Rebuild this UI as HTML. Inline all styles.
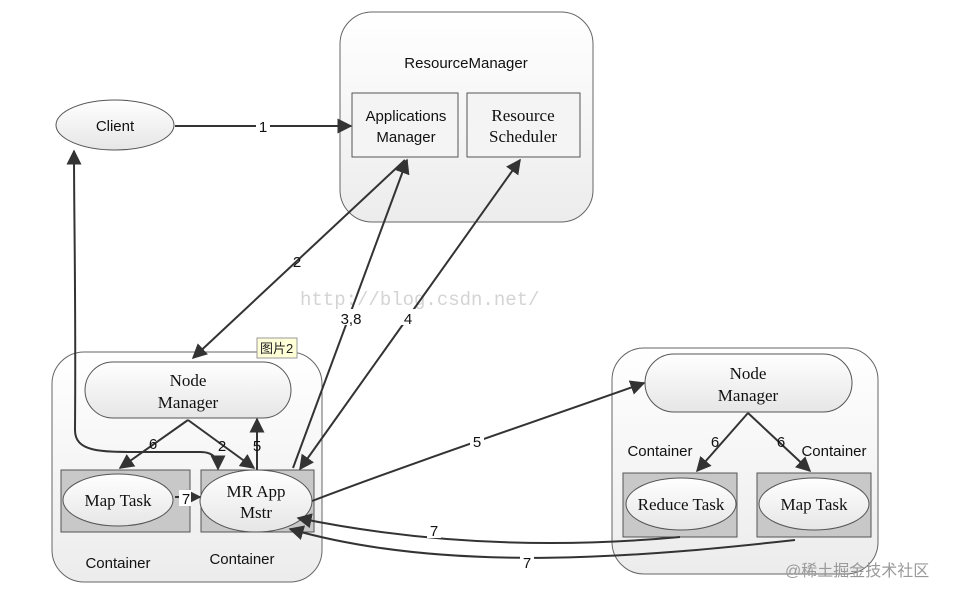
<!DOCTYPE html>
<html><head><meta charset="utf-8"><style>
html,body{margin:0;padding:0;background:#fff;}
svg{display:block;}
.s{font-family:"Liberation Sans","DejaVu Sans",sans-serif;font-size:15px;fill:#111;}
.r{font-family:"Liberation Serif",serif;font-size:17px;fill:#111;}
</style></head><body>
<svg width="967" height="598" viewBox="0 0 967 598" xmlns="http://www.w3.org/2000/svg">
<defs>
<marker id="a" viewBox="0 0 10 10" refX="9" refY="5" markerWidth="15" markerHeight="15" markerUnits="userSpaceOnUse" orient="auto"><path d="M0,0 L10,5 L0,10 z" fill="#333"/></marker>
<marker id="b" viewBox="0 0 10 10" refX="1" refY="5" markerWidth="15" markerHeight="15" markerUnits="userSpaceOnUse" orient="auto"><path d="M10,0 L0,5 L10,10 z" fill="#333"/></marker>
<linearGradient id="g" x1="0" y1="0" x2="0" y2="1"><stop offset="0" stop-color="#fff"/><stop offset="1" stop-color="#ececec"/></linearGradient>
<linearGradient id="e" x1="0" y1="0" x2="0" y2="1"><stop offset="0" stop-color="#fff"/><stop offset="1" stop-color="#e6e6e6"/></linearGradient>
</defs>
<rect x="340" y="12" width="253" height="210" rx="32" fill="url(#g)" stroke="#666"/>
<rect x="52" y="352" width="270" height="230" rx="32" fill="url(#g)" stroke="#666"/>
<rect x="612" y="348" width="266" height="226" rx="32" fill="url(#g)" stroke="#666"/>
<text x="466" y="68" class="s" text-anchor="middle">ResourceManager</text>
<rect x="352" y="93" width="106" height="64" fill="#f4f4f4" stroke="#555"/>
<rect x="467" y="93" width="113" height="64" fill="#f4f4f4" stroke="#555"/>
<text x="406" y="121" class="s" text-anchor="middle">Applications</text>
<text x="406" y="142" class="s" text-anchor="middle">Manager</text>
<text x="523" y="121" class="r" text-anchor="middle">Resource</text>
<text x="523" y="142" class="r" text-anchor="middle">Scheduler</text>
<ellipse cx="115" cy="125" rx="59" ry="25" fill="url(#e)" stroke="#555"/>
<text x="115" y="131" class="s" text-anchor="middle">Client</text>
<rect x="85" y="362" width="206" height="56" rx="28" fill="url(#e)" stroke="#555"/>
<text x="188" y="386" class="r" text-anchor="middle">Node</text>
<text x="188" y="408" class="r" text-anchor="middle">Manager</text>
<rect x="61" y="470" width="129" height="62" fill="#c8c8c8" stroke="#555"/>
<ellipse cx="118" cy="500" rx="55" ry="26" fill="url(#e)" stroke="#555"/>
<text x="118" y="506" class="r" text-anchor="middle">Map Task</text>
<rect x="201" y="470" width="113" height="62" fill="#c8c8c8" stroke="#555"/>
<ellipse cx="256" cy="501" rx="56" ry="31" fill="url(#e)" stroke="#555"/>
<text x="256" y="497" class="r" text-anchor="middle">MR App</text>
<text x="256" y="518" class="r" text-anchor="middle">Mstr</text>
<text x="118" y="568" class="s" text-anchor="middle">Container</text>
<text x="242" y="564" class="s" text-anchor="middle">Container</text>
<rect x="645" y="354" width="207" height="58" rx="29" fill="url(#e)" stroke="#555"/>
<text x="748" y="379" class="r" text-anchor="middle">Node</text>
<text x="748" y="401" class="r" text-anchor="middle">Manager</text>
<rect x="623" y="473" width="114" height="64" fill="#c8c8c8" stroke="#555"/>
<ellipse cx="681" cy="504" rx="55" ry="26" fill="url(#e)" stroke="#555"/>
<text x="681" y="510" class="r" text-anchor="middle">Reduce Task</text>
<rect x="757" y="473" width="114" height="64" fill="#c8c8c8" stroke="#555"/>
<ellipse cx="814" cy="504" rx="55" ry="26" fill="url(#e)" stroke="#555"/>
<text x="814" y="510" class="r" text-anchor="middle">Map Task</text>
<text x="660" y="456" class="s" text-anchor="middle">Container</text>
<text x="834" y="456" class="s" text-anchor="middle">Container</text>
<text x="300" y="305" font-family="Liberation Mono,monospace" font-size="19" fill="#d4d4d4">http://blog.csdn.net/</text>
<rect x="257" y="338" width="40" height="20" fill="#ffffd8" stroke="#999"/>
<text x="260" y="353" font-family="Liberation Sans,Noto Sans CJK SC,sans-serif" font-size="13" fill="#222">图片2</text>
<g stroke="#333" stroke-width="2" fill="none">
<line x1="175" y1="126" x2="351" y2="126" marker-end="url(#a)"/>
<line x1="405" y1="160" x2="193" y2="358" marker-end="url(#a)"/>
<line x1="293" y1="468" x2="407" y2="160" marker-end="url(#a)"/>
<line x1="300" y1="469" x2="520" y2="160" marker-end="url(#a)" marker-start="url(#b)"/>
<path d="M75,430 C76,300 74,220 74,151" marker-end="url(#a)"/>
<path d="M75,430 C75,452 100,452 140,452 L200,452 C215,452 218,460 218,469" marker-end="url(#a)"/>
<line x1="188" y1="420" x2="120" y2="468" marker-end="url(#a)"/>
<line x1="188" y1="420" x2="254" y2="468" marker-end="url(#a)"/>
<line x1="257" y1="470" x2="257" y2="419" marker-end="url(#a)"/>
<line x1="175" y1="497" x2="200" y2="497" marker-end="url(#a)"/>
<path d="M312,501 C420,460 540,420 644,383" marker-end="url(#a)"/>
<line x1="748" y1="413" x2="697" y2="471" marker-end="url(#a)"/>
<line x1="748" y1="413" x2="810" y2="471" marker-end="url(#a)"/>
<path d="M680,537 C560,548 430,545 298,518" marker-end="url(#a)"/>
<path d="M795,540 C650,556 450,575 290,529" marker-end="url(#a)"/>
</g>
<g class="s" text-anchor="middle">
<rect x="256" y="117" width="14" height="16" fill="#fff"/><text x="263" y="132">1</text>
<text x="297" y="267">2</text>
<rect x="337" y="309" width="28" height="16" fill="#fff"/><text x="351" y="324">3,8</text>
<rect x="401" y="309" width="14" height="16" fill="#fff"/><text x="408" y="324">4</text>
<text x="153" y="449">6</text>
<text x="222" y="451">2</text>
<text x="257" y="451">5</text>
<rect x="179" y="490" width="12" height="16" fill="#fff"/><text x="186" y="504">7</text>
<rect x="470" y="433" width="14" height="16" fill="#fff"/><text x="477" y="447">5</text>
<text x="715" y="447">6</text>
<text x="781" y="447">6</text>
<rect x="427" y="522" width="14" height="16" fill="#fff"/><text x="434" y="536">7</text>
<rect x="520" y="554" width="14" height="16" fill="#fff"/><text x="527" y="568">7</text>
</g>
<text x="785" y="576" font-family="Liberation Sans,Noto Sans CJK SC,sans-serif" font-size="16" fill="#999">@稀土掘金技术社区</text>
</svg>
</body></html>
